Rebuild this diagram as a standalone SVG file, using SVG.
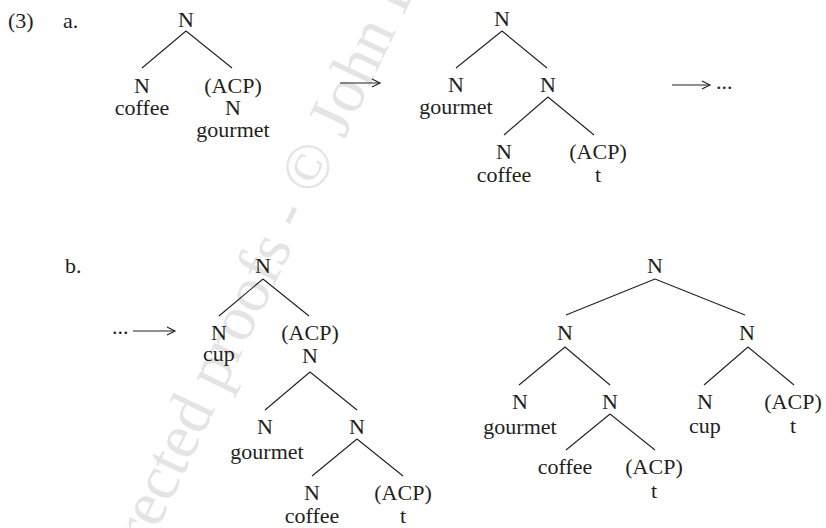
<svg xmlns="http://www.w3.org/2000/svg" width="826" height="528" viewBox="0 0 826 528">
<defs>
<style>
text{font-family:"Liberation Serif","Times New Roman",serif;font-size:22px;fill:#231f20;text-anchor:middle}
text.l{text-anchor:start}
.wm{font-size:64px;fill:#e4e4e4;text-anchor:start}
.e line{stroke:#231f20;stroke-width:1.1}
.arr{stroke:#231f20;stroke-width:1.1;fill:none}
</style>
<marker id="ah" viewBox="-10 -6 12 12" markerWidth="12" markerHeight="12" refX="0" refY="0" orient="auto" markerUnits="userSpaceOnUse">
<path d="M-8,-4 L0,0 L-8,4" fill="none" stroke="#231f20" stroke-width="1.1"/>
</marker>
</defs>
<rect width="826" height="528" fill="#fff"/>
<text class="wm" transform="translate(79,693) rotate(-64.4)">Uncorrected proofs - © John Benjamins Publishing Company</text>

<g id="labels">
<text class="l" x="8" y="28">(3)</text>
<text class="l" x="63" y="28">a.</text>
<text class="l" x="65" y="273">b.</text>
</g>

<g id="arrows">
<line class="arr" x1="340" y1="83" x2="380" y2="83" marker-end="url(#ah)"/>
<line class="arr" x1="672" y1="85" x2="710" y2="85" marker-end="url(#ah)"/>
<text class="l" x="716" y="89">...</text>
<text class="l" x="112" y="334">...</text>
<line class="arr" x1="133" y1="331" x2="175" y2="331" marker-end="url(#ah)"/>
</g>

<g id="connectors" class="e">
<!-- tree a1 -->
<line x1="186" y1="31" x2="142" y2="68"/>
<line x1="186" y1="31" x2="232" y2="68"/>
<!-- tree a2 -->
<line x1="502" y1="31" x2="456" y2="68"/>
<line x1="502" y1="31" x2="547" y2="68"/>
<line x1="548" y1="97" x2="504" y2="135"/>
<line x1="548" y1="97" x2="594" y2="135"/>
<!-- tree b1 -->
<line x1="263" y1="279" x2="219" y2="316"/>
<line x1="263" y1="279" x2="309" y2="316"/>
<line x1="310" y1="372" x2="265" y2="410"/>
<line x1="310" y1="372" x2="357" y2="410"/>
<line x1="357" y1="439" x2="312" y2="476"/>
<line x1="357" y1="439" x2="403" y2="476"/>
<!-- tree b2 -->
<line x1="655" y1="279" x2="566" y2="315"/>
<line x1="655" y1="279" x2="745" y2="315"/>
<line x1="565" y1="347" x2="519" y2="385"/>
<line x1="565" y1="347" x2="610" y2="385"/>
<line x1="748" y1="347" x2="704" y2="385"/>
<line x1="748" y1="347" x2="794" y2="385"/>
<line x1="610" y1="414" x2="566" y2="450"/>
<line x1="610" y1="414" x2="655" y2="450"/>
</g>

<!-- tree a1 -->
<g id="a1-root"><text x="186" y="27">N</text></g>
<g id="a1-coffee"><text x="142" y="93">N</text><text x="142" y="115">coffee</text></g>
<g id="a1-acp"><text x="233" y="93">(ACP)</text><text x="233" y="115">N</text><text x="233" y="137">gourmet</text></g>

<!-- tree a2 -->
<g id="a2-root"><text x="502" y="26">N</text></g>
<g id="a2-gourmet"><text x="456" y="92">N</text><text x="456" y="114">gourmet</text></g>
<g id="a2-n"><text x="548" y="92">N</text></g>
<g id="a2-coffee"><text x="504" y="159">N</text><text x="504" y="182">coffee</text></g>
<g id="a2-acp"><text x="598" y="159">(ACP)</text><text x="598" y="182">t</text></g>

<!-- tree b1 -->
<g id="b1-root"><text x="263" y="273">N</text></g>
<g id="b1-cup"><text x="219" y="340">N</text><text x="219" y="361">cup</text></g>
<g id="b1-acp"><text x="310" y="340">(ACP)</text><text x="310" y="363">N</text></g>
<g id="b1-gourmet"><text x="265" y="434">N</text><text x="267" y="459">gourmet</text></g>
<g id="b1-n"><text x="357" y="434">N</text></g>
<g id="b1-coffee"><text x="312" y="500">N</text><text x="312" y="523">coffee</text></g>
<g id="b1-acp2"><text x="403" y="500">(ACP)</text><text x="403" y="523">t</text></g>

<!-- tree b2 -->
<g id="b2-root"><text x="655" y="273">N</text></g>
<g id="b2-left"><text x="565" y="340">N</text></g>
<g id="b2-right"><text x="747" y="340">N</text></g>
<g id="b2-gourmet"><text x="520" y="409">N</text><text x="520" y="434">gourmet</text></g>
<g id="b2-n"><text x="610" y="409">N</text></g>
<g id="b2-cup"><text x="705" y="409">N</text><text x="705" y="433">cup</text></g>
<g id="b2-acp"><text x="793" y="409">(ACP)</text><text x="793" y="433">t</text></g>
<g id="b2-coffee"><text x="565" y="474">coffee</text></g>
<g id="b2-acp2"><text x="654" y="474">(ACP)</text><text x="654" y="498">t</text></g>
</svg>
